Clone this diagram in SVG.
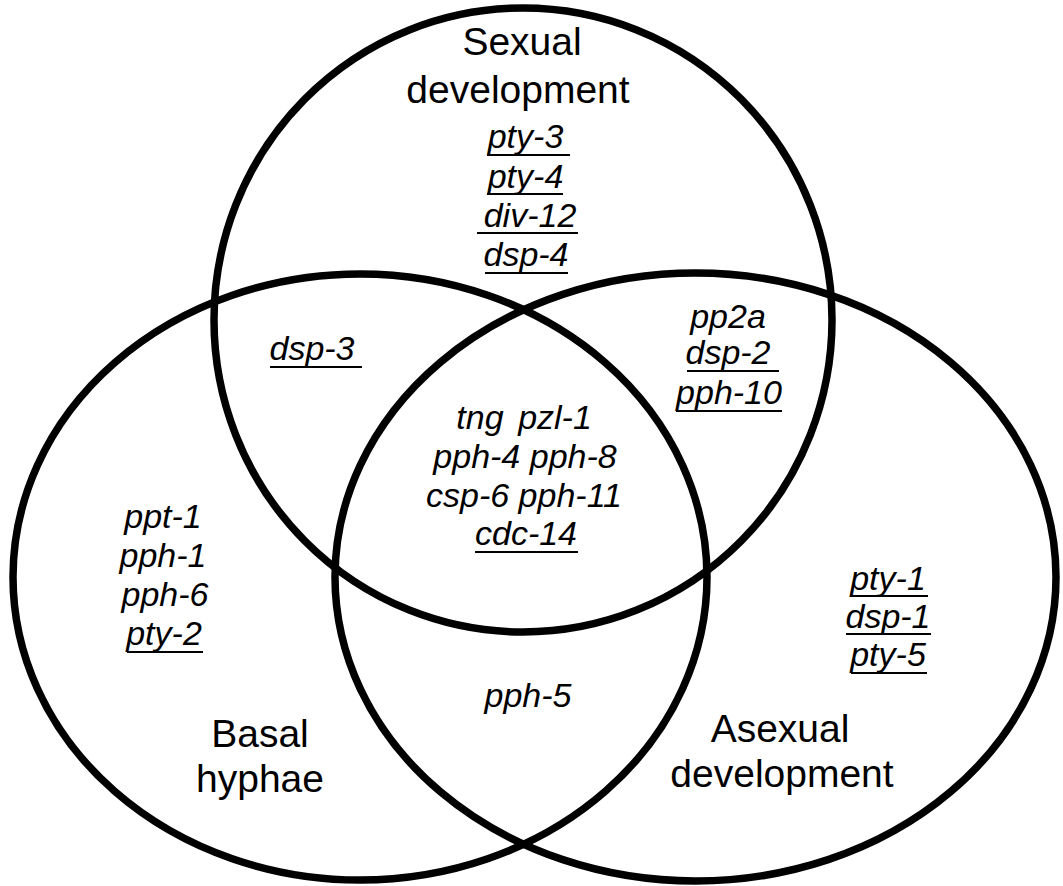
<svg xmlns="http://www.w3.org/2000/svg" width="1063" height="886" viewBox="0 0 1063 886">
<style>
.ring{fill:none;stroke:#000;stroke-width:7.5}
.lbl{font-family:"Liberation Sans",Arial,sans-serif;font-size:39px;fill:#000;text-anchor:middle}
.gene{font-family:"Liberation Sans",Arial,sans-serif;font-size:34px;font-style:italic;fill:#000;text-anchor:middle}
.ul{stroke:#000;stroke-width:2.2}
</style>
<rect width="1063" height="886" fill="#fff"/>
<g id="circles">
<ellipse id="sexual-circle" class="ring" cx="523" cy="320" rx="309" ry="312"/>
<ellipse id="basal-circle" class="ring" cx="360" cy="577" rx="347" ry="303"/>
<ellipse id="asexual-circle" class="ring" cx="695.5" cy="577" rx="360.5" ry="304"/>
</g>
<g id="connectors"/>
<g id="sexual-only">
<text class="lbl" x="522" y="55">Sexual</text>
<text class="lbl" x="518" y="103">development</text>
<text class="gene" x="525.5" y="148">pty-3</text>
<line class="ul" x1="487" y1="155" x2="570" y2="155"/>
<text class="gene" x="525.5" y="188">pty-4</text>
<line class="ul" x1="487" y1="194" x2="563" y2="194"/>
<text class="gene" x="530" y="227">div-12</text>
<line class="ul" x1="477" y1="233" x2="578" y2="233"/>
<text class="gene" x="526" y="266">dsp-4</text>
<line class="ul" x1="485" y1="273" x2="568" y2="273"/>
</g>
<g id="sexual-basal">
<text class="gene" x="312" y="360">dsp-3</text>
<line class="ul" x1="270" y1="367" x2="362" y2="367"/>
</g>
<g id="sexual-asexual">
<text class="gene" x="728" y="328">pp2a</text>
<text class="gene" x="728" y="364">dsp-2</text>
<line class="ul" x1="687" y1="371" x2="779" y2="371"/>
<text class="gene" x="729" y="404">pph-10</text>
<line class="ul" x1="676" y1="411" x2="782" y2="411"/>
</g>
<g id="all-three">
<text class="gene" x="480" y="429">tng</text>
<text class="gene" x="555" y="429">pzl-1</text>
<text class="gene" x="525" y="468">pph-4 pph-8</text>
<text class="gene" x="524" y="507">csp-6 pph-11</text>
<text class="gene" x="526" y="545">cdc-14</text>
<line class="ul" x1="475" y1="552" x2="578" y2="552"/>
</g>
<g id="basal-only">
<text class="gene" x="163" y="528">ppt-1</text>
<text class="gene" x="163" y="567">pph-1</text>
<text class="gene" x="165" y="606">pph-6</text>
<text class="gene" x="164" y="645">pty-2</text>
<line class="ul" x1="127" y1="652" x2="203" y2="652"/>
<text class="lbl" x="260" y="747">Basal</text>
<text class="lbl" x="260" y="792">hyphae</text>
</g>
<g id="basal-asexual">
<text class="gene" x="528" y="707">pph-5</text>
</g>
<g id="asexual-only">
<text class="gene" x="888" y="590">pty-1</text>
<line class="ul" x1="851" y1="596" x2="928" y2="596"/>
<text class="gene" x="888" y="628">dsp-1</text>
<line class="ul" x1="846" y1="634" x2="931" y2="634"/>
<text class="gene" x="888" y="666">pty-5</text>
<line class="ul" x1="851" y1="673" x2="927" y2="673"/>
<text class="lbl" x="780" y="742">Asexual</text>
<text class="lbl" x="782" y="787">development</text>
</g>
</svg>
